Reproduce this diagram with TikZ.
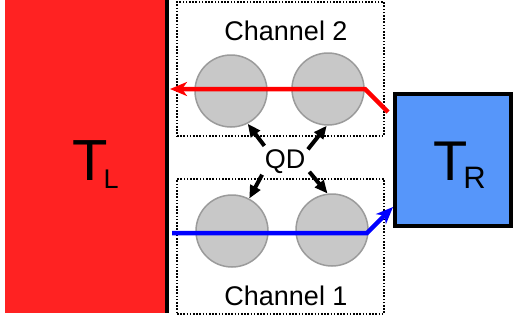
\documentclass[tikz,border=0pt]{standalone}
\usepackage{fontspec}
\setmainfont{Liberation Sans}
\usetikzlibrary{arrows.meta}
\definecolor{hotred}{RGB}{255,34,34}
\definecolor{skyblue}{RGB}{86,150,250}
\definecolor{dotgray}{RGB}{200,200,200}
\definecolor{dotedge}{RGB}{155,155,155}
\begin{document}
\begin{tikzpicture}[x=1bp,y=-1bp,
  chanbox/.style={draw=black, line width=1.9bp, dash pattern=on 1.6bp off 1.6bp},
  qdot/.style={circle, fill=dotgray, draw=dotedge, line width=1.5bp, minimum size=72bp, inner sep=0},
  flow/.style={line width=4.5bp, -{Stealth[length=17bp,width=14bp,inset=5bp]}},
  qdarrow/.style={line width=4bp, -{Triangle[length=13bp,width=11bp]}},
  label/.style={inner sep=0, font=\fontsize{27bp}{32bp}\selectfont}]
\useasboundingbox (0,0) rectangle (513,320);
% left reservoir
\node[fill=hotred, minimum width=162bp, minimum height=313bp, inner sep=0, anchor=north west] (TL) at (5,0) {};
\draw[line width=4bp] (TL.north east) -- (TL.south east);
\node[anchor=base west, inner sep=0] (TLlab) at (72,180) {\fontsize{58bp}{60bp}\selectfont T\kern-4bp\raisebox{-8bp}{\fontsize{27bp}{30bp}\selectfont L}};
% right reservoir
\node[draw=black, line width=4bp, fill=skyblue, minimum width=116bp, minimum height=132bp, inner sep=0] (TR) at (453,160) {};
\node[anchor=base west, inner sep=0] (TRlab) at (433,180) {\fontsize{56bp}{60bp}\selectfont T\kern-4bp\raisebox{-8bp}{\fontsize{31bp}{34bp}\selectfont R}};
% channel boxes
\node[chanbox, minimum width=207bp, minimum height=134bp, inner sep=0, anchor=north west] (ch2) at (176,1) {};
\node[chanbox, minimum width=207bp, minimum height=135bp, inner sep=0, anchor=north west] (ch1) at (176,178) {};
\node[label, anchor=base] (ch2lab) at (286,40) {Channel 2};
\node[label, anchor=base] (ch1lab) at (286,305) {Channel 1};
% quantum dots
\node[qdot] (c2a) at (231,91) {};
\node[qdot] (c2b) at (328,89) {};
\node[qdot] (c1a) at (232,231) {};
\node[qdot] (c1b) at (332,230) {};
% QD label and arrows
\node[circle, minimum size=52bp, inner sep=0] (QD) at (285,162) {};
\node[label] (QDtxt) at (285,162) {QD};
\draw[qdarrow] (QD.142) -- (c2a.-63);
\draw[qdarrow] (QD.29) -- (c2b.-92);
\draw[qdarrow] (QD.209) -- (c1a.62);
\draw[qdarrow] (QD.-22) -- (c1b.97);
% heat flows
\coordinate (rs) at (388,112);
\coordinate (rk) at (365,89);
\coordinate (rt) at (170,89);
\draw[flow, red, line join=miter] (rs) -- (rk) -- (rt);
\coordinate (bs) at (172,233);
\coordinate (bk) at (367,233);
\coordinate (bt) at (393,207);
\draw[flow, blue] (bs) -- (bk) -- (bt);
\end{tikzpicture}
\end{document}
